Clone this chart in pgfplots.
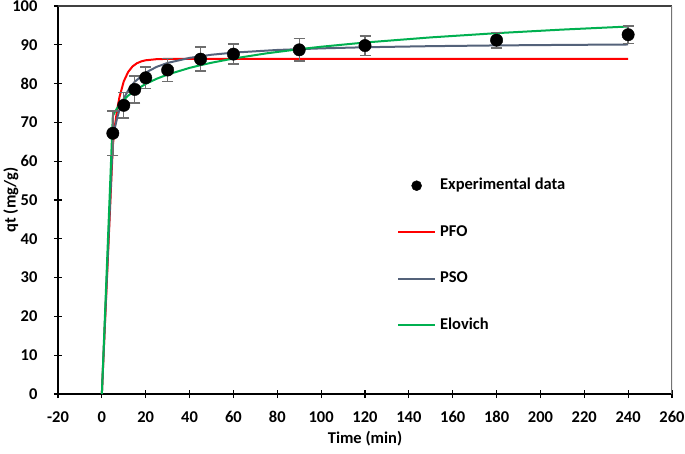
\documentclass[border=0pt]{standalone}
\usepackage{pgfplots}
\pgfplotsset{compat=1.18}
\usepackage{pgfplotstable}
\usepackage{fontspec}
\setmainfont{Carlito}

\definecolor{pfo}{RGB}{255,0,0}
\definecolor{pso}{RGB}{84,98,122}
\definecolor{elo}{RGB}{0,176,80}
\definecolor{errc}{RGB}{110,110,110}

\pgfplotstableread{
t q e
5 67.2 5.7
10 74.4 3.3
15 78.5 3.5
20 81.5 2.8
30 83.5 2.9
45 86.3 3.1
60 87.6 2.6
90 88.7 2.9
120 89.8 2.5
180 91.2 2.0
240 92.6 2.2
}\expdata

\pgfplotstableread{
t q
0 0
5 64.01
6 69.30
7 73.35
8 76.44
10 80.59
12 83.01
14 84.43
16 85.25
18 85.73
20 86.01
25 86.30
30 86.37
40 86.40
60 86.40
120 86.40
180 86.40
240 86.40
}\pfodata

\pgfplotstableread{
t q
0 0
5 65.58
6 68.76
7 71.23
8 73.20
10 76.15
12 78.26
15 80.49
20 82.84
25 84.32
30 85.33
40 86.63
50 87.44
60 87.98
80 88.67
100 89.08
120 89.37
150 89.65
180 89.84
210 89.97
240 90.08
}\psodata

\pgfplotstableread{
t q
0 0
5 71.68
6 72.76
7 73.68
8 74.47
10 75.80
12 76.89
15 78.21
20 79.92
25 81.25
30 82.34
40 84.05
45 84.75
50 85.38
60 86.46
75 87.79
90 88.87
100 89.50
120 90.59
150 91.91
180 93.00
210 93.92
240 94.71
}\elodata

\begin{document}
\begin{tikzpicture}
\begin{axis}[
  scale only axis, width=614pt, height=388pt,
  xmin=-20, xmax=260, ymin=0, ymax=100,
  xtick={-20,0,...,260}, ytick={0,10,...,100},
  axis x line*=bottom, axis y line*=left,
  axis line style={black, line width=1.4pt, -},
  tick align=center, major tick length=8pt,
  tick style={black, line width=1.2pt},
  ticklabel style={font=\bfseries\fontsize{16.5}{19}\selectfont},
  xticklabel style={yshift=-10pt},
  yticklabel style={xshift=-13pt},
  /pgf/number format/assume math mode=true,
  xlabel={Time (min)}, ylabel={qt (mg/g)},
  label style={font=\bfseries\fontsize{16.5}{19}\selectfont},
  xlabel style={at={(axis description cs:0.5,-0.116)}, anchor=center},
  ylabel style={at={(axis description cs:-0.0765,0.5)}, anchor=center},
  legend style={at={(axis description cs:0.552,0.558)}, anchor=north west,
    draw=none, fill=none, inner sep=0pt, row sep=30.5pt,
    font=\bfseries\fontsize{16.5}{19}\selectfont,
    nodes={inner sep=0pt, text height=12pt, text depth=4pt}},
  legend cell align=left,
  legend image code/.code={\draw[mark repeat=2, mark phase=2, #1] plot coordinates {(0pt,0pt) (18.5pt,0pt) (37pt,0pt)}; \path (41pt,0pt);},
]
\addlegendimage{only marks, mark=*, mark size=5pt, black}
\addlegendentry{Experimental data}
\addplot[pfo, line width=2pt, no marks] table[x=t, y=q] {\pfodata};
\addlegendentry{PFO}
\addplot[pso, line width=2pt, no marks] table[x=t, y=q] {\psodata};
\addlegendentry{PSO}
\addplot[elo, line width=2pt, no marks] table[x=t, y=q] {\elodata};
\addlegendentry{Elovich}
\addplot[only marks, mark=*, mark size=6.2pt, black, forget plot,
  error bars/.cd, y dir=both, y explicit,
  error bar style={errc, line width=1.4pt},
  error mark options={errc, rotate=90, mark size=5.5pt, line width=1.4pt}]
  table[x=t, y=q, y error=e] {\expdata};
\draw[black!75, line width=1.2pt] (rel axis cs:0,1) -- (rel axis cs:1,1);
\draw[black!55, line width=1.2pt] (rel axis cs:1,1) -- (rel axis cs:1,0);
\end{axis}
\pgfresetboundingbox
\path (-58pt,-59pt) rectangle (627pt,394pt);
\end{tikzpicture}
\end{document}
